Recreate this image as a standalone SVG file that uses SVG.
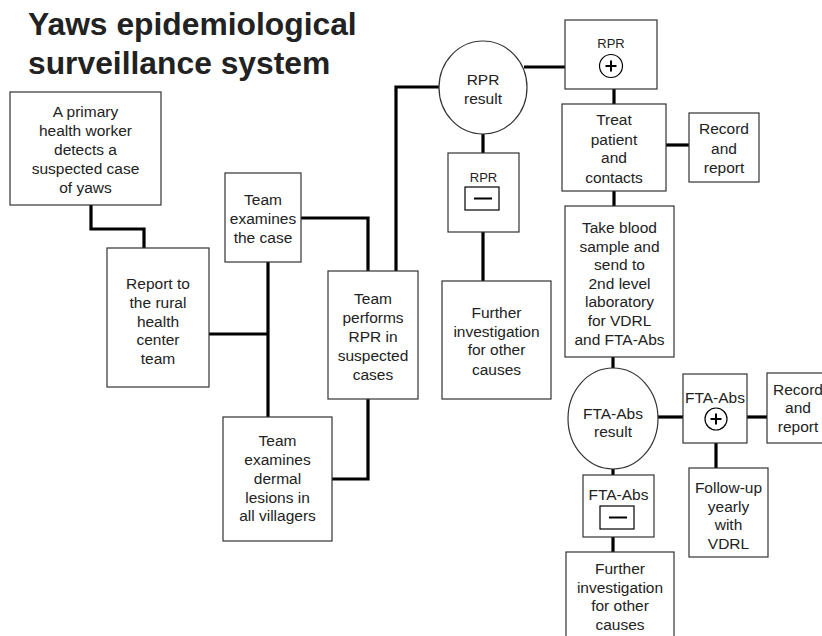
<svg xmlns="http://www.w3.org/2000/svg" width="822" height="636" viewBox="0 0 822 636">
<style>
.box{fill:#fff;stroke:#333;stroke-width:1.2}
.t{font-family:"Liberation Sans",Arial,sans-serif;font-size:15.5px;fill:#222;text-anchor:middle}
.s{font-family:"Liberation Sans",Arial,sans-serif;font-size:13px;fill:#222;text-anchor:middle}
.title{font-family:"Liberation Sans",Arial,sans-serif;font-size:31.8px;font-weight:bold;fill:#222}
.c{fill:none;stroke:#000;stroke-width:3.2}
.sym{fill:none;stroke:#000;stroke-width:2}
.symc{fill:#fff;stroke:#000;stroke-width:1.2}
</style>
<rect width="822" height="636" fill="#fff"/>
<g id="title">
<text class="title" x="28" y="35">Yaws epidemiological</text>
<text class="title" x="28" y="74">surveillance system</text>
</g>
<g id="connectors">
<path class="c" d="M91,205 V229 H144 V248"/>
<path class="c" d="M209,334 H268"/>
<path class="c" d="M268,262 V417"/>
<path class="c" d="M301,218 H368 V271"/>
<path class="c" d="M332,479 H368 V399"/>
<path class="c" d="M396,271 V87 H439"/>
<path class="c" d="M524,67 H565"/>
<path class="c" d="M614,89 V104"/>
<path class="c" d="M666,145 H689"/>
<path class="c" d="M614,191 V206"/>
<path class="c" d="M483,134 V153"/>
<path class="c" d="M483,232 V281"/>
<path class="c" d="M613,357 V368"/>
<path class="c" d="M658,417 H683"/>
<path class="c" d="M747,417 H767"/>
<path class="c" d="M716,443 V468"/>
<path class="c" d="M613,469 V475"/>
<path class="c" d="M613,537 V552"/>
</g>
<g id="detect">
<rect class="box" x="10" y="92" width="151" height="113"/>
<text class="t" x="85.5" y="117">A primary</text>
<text class="t" x="85.5" y="136">health worker</text>
<text class="t" x="85.5" y="155">detects a</text>
<text class="t" x="85.5" y="174">suspected case</text>
<text class="t" x="85.5" y="193">of yaws</text>
</g>
<g id="report">
<rect class="box" x="107" y="248" width="102" height="139"/>
<text class="t" x="158" y="289">Report to</text>
<text class="t" x="158" y="308">the rural</text>
<text class="t" x="158" y="327">health</text>
<text class="t" x="158" y="345">center</text>
<text class="t" x="158" y="364">team</text>
</g>
<g id="examines">
<rect class="box" x="225" y="173" width="76" height="89"/>
<text class="t" x="263" y="205">Team</text>
<text class="t" x="263" y="224">examines</text>
<text class="t" x="263" y="243">the case</text>
</g>
<g id="dermal">
<rect class="box" x="223" y="417" width="109" height="124"/>
<text class="t" x="277.5" y="446">Team</text>
<text class="t" x="277.5" y="465">examines</text>
<text class="t" x="277.5" y="484">dermal</text>
<text class="t" x="277.5" y="503">lesions in</text>
<text class="t" x="277.5" y="521">all villagers</text>
</g>
<g id="performs">
<rect class="box" x="328" y="271" width="90" height="128"/>
<text class="t" x="373" y="304">Team</text>
<text class="t" x="373" y="323">performs</text>
<text class="t" x="373" y="342">RPR in</text>
<text class="t" x="373" y="361">suspected</text>
<text class="t" x="373" y="380">cases</text>
</g>
<g id="rpr-result">
<ellipse class="box" cx="483" cy="87.5" rx="44" ry="46.5"/>
<text class="t" x="483" y="85">RPR</text>
<text class="t" x="483" y="104">result</text>
</g>
<g id="rpr-pos">
<rect class="box" x="565" y="20" width="92" height="69"/>
<text class="s" x="611" y="48">RPR</text>
<circle class="symc" cx="611" cy="66" r="11.5"/>
<path class="sym" d="M605.5,66 H616.5 M611,60.5 V71.5"/>
</g>
<g id="rpr-neg">
<rect class="box" x="448" y="153" width="71" height="79"/>
<text class="s" x="483.5" y="182">RPR</text>
<rect class="symc" x="465" y="187" width="34" height="23"/>
<path class="sym" d="M474,198.5 H492"/>
</g>
<g id="further1">
<rect class="box" x="442" y="281" width="109" height="118"/>
<text class="t" x="496.5" y="318">Further</text>
<text class="t" x="496.5" y="337">investigation</text>
<text class="t" x="496.5" y="355">for other</text>
<text class="t" x="496.5" y="375">causes</text>
</g>
<g id="treat">
<rect class="box" x="562" y="104" width="104" height="87"/>
<text class="t" x="614" y="125">Treat</text>
<text class="t" x="614" y="145">patient</text>
<text class="t" x="614" y="163">and</text>
<text class="t" x="614" y="183">contacts</text>
</g>
<g id="record1">
<rect class="box" x="689" y="113" width="70" height="69"/>
<text class="t" x="724" y="134">Record</text>
<text class="t" x="724" y="154">and</text>
<text class="t" x="724" y="173">report</text>
</g>
<g id="blood">
<rect class="box" x="565" y="206" width="109" height="151"/>
<text class="t" x="619.5" y="233">Take blood</text>
<text class="t" x="619.5" y="251.6">sample and</text>
<text class="t" x="619.5" y="270.2">send to</text>
<text class="t" x="619.5" y="288.8">2nd level</text>
<text class="t" x="619.5" y="307.4">laboratory</text>
<text class="t" x="619.5" y="326">for VDRL</text>
<text class="t" x="619.5" y="344.6">and FTA-Abs</text>
</g>
<g id="fta-result">
<ellipse class="box" cx="613" cy="418.5" rx="45" ry="50.5"/>
<text class="t" x="613" y="419">FTA-Abs</text>
<text class="t" x="613" y="437">result</text>
</g>
<g id="fta-pos">
<rect class="box" x="683" y="374" width="64" height="69"/>
<text class="t" x="715" y="403">FTA-Abs</text>
<circle class="symc" cx="716" cy="419" r="11"/>
<path class="sym" d="M710.5,419 H721.5 M716,413.5 V424.5"/>
</g>
<g id="record2">
<rect class="box" x="767" y="373" width="70" height="70"/>
<text class="t" x="798" y="395">Record</text>
<text class="t" x="798" y="413">and</text>
<text class="t" x="798" y="432">report</text>
</g>
<g id="followup">
<rect class="box" x="689" y="468" width="79" height="89"/>
<text class="t" x="728.5" y="493">Follow-up</text>
<text class="t" x="728.5" y="511.5">yearly</text>
<text class="t" x="728.5" y="530">with</text>
<text class="t" x="728.5" y="548.5">VDRL</text>
</g>
<g id="fta-neg">
<rect class="box" x="583" y="475" width="71" height="62"/>
<text class="t" x="618.5" y="500">FTA-Abs</text>
<rect class="symc" x="600" y="506" width="34" height="23"/>
<path class="sym" d="M609,517.5 H627"/>
</g>
<g id="further2">
<rect class="box" x="566" y="552" width="108" height="90"/>
<text class="t" x="620" y="574">Further</text>
<text class="t" x="620" y="593">investigation</text>
<text class="t" x="620" y="611">for other</text>
<text class="t" x="620" y="630">causes</text>
</g>
</svg>
